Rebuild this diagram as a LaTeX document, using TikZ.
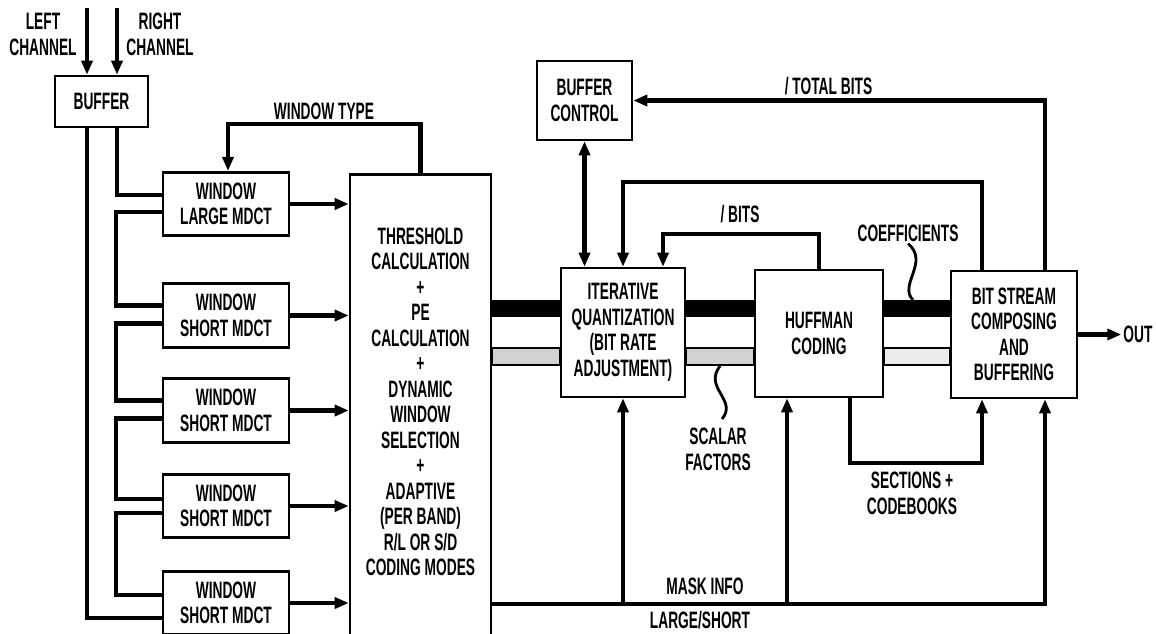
\documentclass[tikz,border=0pt]{standalone}
\usepackage{fontspec}
\newfontfamily\boxfont[FakeStretch=0.58]{Liberation Sans}
\newcommand{\figfont}{\boxfont\bfseries\fontsize{13.5}{14.5}\selectfont}
\usetikzlibrary{arrows.meta, positioning, calc}

\begin{document}
\begin{tikzpicture}[
    x=0.02cm, y=-0.02cm,
    >={Triangle[length=2.8mm, width=2.2mm]},
    blk/.style={rectangle, draw=black, line width=1.5pt, inner sep=0pt, align=center, font=\figfont},
    winbox/.style={blk, minimum width=2.52cm, minimum height=1.27cm},
    lbl/.style={align=center, font=\figfont, inner sep=1pt},
    conn/.style={draw=black, line width=2.4pt},
    coefbar/.style={draw=black, line width=0.34cm},
    sfbar/.style={draw=black, line width=1.1pt, fill=black!18},
    wiggle/.style={draw=black, line width=1.6pt}
]
    \useasboundingbox (0,0) rectangle (1156,633);
    \clip (0,0) rectangle (1156,633);

    % Inputs and buffer
    \node[lbl] (LCH) at (43,34.5) {LEFT\\CHANNEL};
    \node[lbl] (RCH) at (160,34.5) {RIGHT\\CHANNEL};
    \node[blk, minimum width=1.86cm, minimum height=1.02cm] (BUF) at (101.5,101.5) {BUFFER};
    \coordinate (lin) at (87,8);
    \coordinate (rin) at (117,8);

    % Window / MDCT bank
    \node[winbox] (WL) at (226,204) {WINDOW\\LARGE MDCT};
    \node[winbox] (WS1) at (226,315.5) {WINDOW\\SHORT MDCT};
    \node[winbox] (WS2) at (226,410.5) {WINDOW\\SHORT MDCT};
    \node[winbox] (WS3) at (226,506) {WINDOW\\SHORT MDCT};
    \node[winbox] (WS4) at (226,603) {WINDOW\\SHORT MDCT};

    % Perceptual model
    \node[blk, anchor=north, minimum width=2.82cm, inner ysep=1.07cm, text depth=6cm] (THR) at (420.5,173)
        {THRESHOLD\\CALCULATION\\+\\PE\\CALCULATION\\+\\DYNAMIC\\WINDOW\\SELECTION\\+\\ADAPTIVE\\(PER BAND)\\R/L OR S/D\\CODING MODES};

    % Coding chain
    \node[blk, minimum width=1.9cm, minimum height=1.58cm] (BC) at (584.5,100.5) {BUFFER\\CONTROL};
    \node[blk, minimum width=2.48cm, minimum height=2.58cm] (IQ) at (623,332.5) {ITERATIVE\\QUANTIZATION\\(BIT RATE\\ADJUSTMENT)};
    \node[blk, minimum width=2.56cm, minimum height=2.54cm] (HC) at (819,333.5) {HUFFMAN\\CODING};
    \node[blk, minimum width=2.52cm, minimum height=2.54cm] (BS) at (1014,334.5) {BIT STREAM\\COMPOSING\\AND\\BUFFERING};
    \node[lbl, right=0.86cm of BS] (OUT) {OUT};

    % Labels
    \node[lbl] (WTYPE) at (324,111) {WINDOW TYPE};
    \node[lbl] (TBITS) at (828.5,86) {/ TOTAL BITS};
    \node[lbl] (NBITS) at (740,214) {/ BITS};
    \node[lbl] (COEF) at (908,233) {COEFFICIENTS};
    \node[lbl] (SCAL) at (718,449.5) {SCALAR\\FACTORS};
    \node[lbl] (SECT) at (912,493.5) {SECTIONS +\\CODEBOOKS};
    \node[lbl] (MASK) at (705,586) {MASK INFO};
    \node[lbl] (LGSH) at (700,620) {LARGE/SHORT};

    % Channel inputs
    \draw[conn, ->] (lin) -- (lin |- BUF.north);
    \draw[conn, ->] (rin) -- (rin |- BUF.north);
    \draw[conn] (lin |- BUF.south) |- ($(WS4.west)+(0,15)$);
    \draw[conn] (rin |- BUF.south) |- ($(WL.west)+(0,-9)$);

    % Chain through the window blocks
    \draw[conn] ($(WL.west)+(0,8)$) -- ++(-46,0) |- ($(WS1.west)+(0,-10)$);
    \draw[conn] ($(WS1.west)+(0,8)$) -- ++(-46,0) |- ($(WS2.west)+(0,-10)$);
    \draw[conn] ($(WS2.west)+(0,8)$) -- ++(-46,0) |- ($(WS3.west)+(0,-7)$);
    \draw[conn] ($(WS3.west)+(0,7)$) -- ++(-46,0) |- ($(WS4.west)+(0,-8)$);

    % Into the threshold block
    \draw[conn, ->] (WL.east) -- (WL.east -| THR.west);
    \draw[conn, ->] (WS1.east) -- (WS1.east -| THR.west);
    \draw[conn, ->] (WS2.east) -- (WS2.east -| THR.west);
    \draw[conn, ->] (WS3.east) -- (WS3.east -| THR.west);
    \draw[conn, ->] (WS4.east) -- (WS4.east -| THR.west);

    % Window type feedback
    \draw[conn, ->] (THR.north) -- ++(0,-49) -| ($(WL.north)+(2,0)$);

    % Coefficient and scale factor paths
    \coordinate (cbar) at (0,308.5);
    \coordinate (sbtop) at (0,348);
    \coordinate (sbbot) at (0,365);
    \draw[coefbar] (THR.east |- cbar) -- (IQ.west |- cbar);
    \draw[coefbar] (IQ.east |- cbar) -- (HC.west |- cbar);
    \draw[coefbar] (HC.east |- cbar) -- (BS.west |- cbar);
    \draw[sfbar] (THR.east |- sbtop) rectangle (IQ.west |- sbbot);
    \draw[sfbar] (IQ.east |- sbtop) rectangle (HC.west |- sbbot);
    \draw[sfbar, fill=black!8] (HC.east |- sbtop) rectangle (BS.west |- sbbot);

    \coordinate (cftip) at (913,300);
    \draw[wiggle] (COEF.south) .. controls (930,262) and (898,285) .. (cftip);
    \coordinate (sftip) at (720,366);
    \coordinate (sfend) at (722,419);
    \draw[wiggle] (sftip) .. controls (703,388) and (738,400) .. (sfend);

    % Rate control loops
    \draw[conn, <->] (BC.south) -- (BC.south |- IQ.north);
    \draw[conn, ->] ($(BS.north)+(31,0)$) |- (BC.east);
    \draw[conn, ->] ($(BS.north)+(-32,0)$) -- ++(0,-88) -| (IQ.north);
    \draw[conn, ->] (HC.north) -- ++(0,-35) -| ($(IQ.north)+(40,0)$);

    % Mask info and block type bus
    \coordinate (lsline) at (0,604);
    \coordinate (hcin) at ($(HC.south)+(-32,0)$);
    \draw[conn, line width=2pt, ->] (THR.east |- lsline) -| ($(BS.south)+(31,0)$);
    \draw[conn, ->] (IQ.south |- lsline) -- (IQ.south);
    \draw[conn, ->] (hcin |- lsline) -- (hcin);

    % Sections and codebooks
    \draw[conn, ->] ($(HC.south)+(31,0)$) -- ++(0,65) -| ($(BS.south)+(-32,0)$);

    % Output
    \draw[conn, ->] (BS.east) -- (OUT.west);
\end{tikzpicture}
\end{document}
